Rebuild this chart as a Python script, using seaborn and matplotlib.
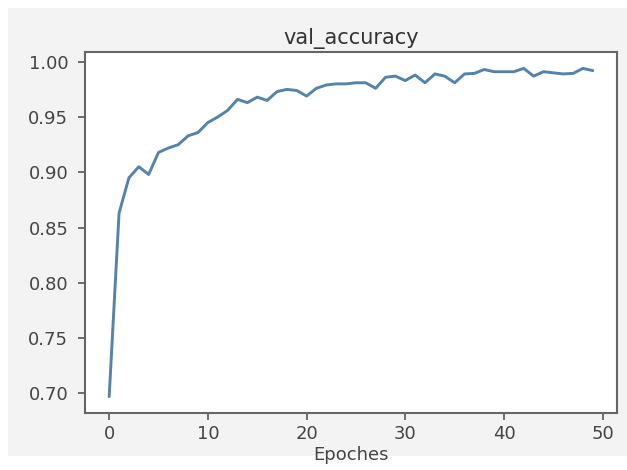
import numpy as np
import pandas as pd
import seaborn as sns
import matplotlib
matplotlib.use("Agg")
import matplotlib.pyplot as plt
from matplotlib.patches import Rectangle

epochs = list(range(50))
val_accuracy = [
    0.697, 0.863, 0.895, 0.905, 0.898, 0.918, 0.922, 0.925, 0.933, 0.936,
    0.945, 0.950, 0.956, 0.966, 0.963, 0.968, 0.965, 0.973, 0.975, 0.974,
    0.969, 0.976, 0.979, 0.980, 0.980, 0.981, 0.981, 0.976, 0.986, 0.987,
    0.983, 0.988, 0.981, 0.989, 0.987, 0.981, 0.989, 0.9895, 0.993, 0.991,
    0.991, 0.991, 0.994, 0.987, 0.991, 0.990, 0.989, 0.9895, 0.994, 0.992,
]
title = "val_accuracy"
xlabel = "Epoches"
xticks = [0, 10, 20, 30, 40, 50]
yticks = [0.70, 0.75, 0.80, 0.85, 0.90, 0.95, 1.00]

df = pd.DataFrame({"epoch": epochs, "val_accuracy": val_accuracy})

sns.set_style("ticks")
plt.rcParams["font.family"] = ["DejaVu Sans"]

fig = plt.figure(figsize=(6.27, 4.70), dpi=100, facecolor="white")
fig.patches.append(Rectangle((8 / 627, (470 - 456) / 470), (627 - 8) / 627, (456 - 8) / 470,
                             transform=fig.transFigure, facecolor="#f3f3f3",
                             edgecolor="none", zorder=-10))
ax = fig.add_axes([85 / 627, (470 - 413) / 470, (617 - 85) / 627, (413 - 52) / 470])
ax.set_facecolor("white")

sns.lineplot(data=df, x="epoch", y="val_accuracy", ax=ax, color="#5583a9", linewidth=2.1)

ax.set_xticks(xticks)
ax.set_yticks(yticks)
ax.set_yticklabels([f"{v:.2f}" for v in yticks])
ax.set_title(title, fontsize=15, color="#333333", pad=6)
ax.set_xlabel(xlabel, fontsize=13, color="#444444", labelpad=2)
ax.set_ylabel("")
ax.tick_params(labelsize=13, colors="#555555", length=5, width=1.2, labelcolor="#444444")
ax.tick_params(axis="y", pad=7)
for s in ax.spines.values():
    s.set_visible(True)
    s.set_color("#666666")
    s.set_linewidth(1.5)
ax.margins(x=0.05, y=0.05)

fig.savefig("out.png", dpi=100, facecolor=fig.get_facecolor())
